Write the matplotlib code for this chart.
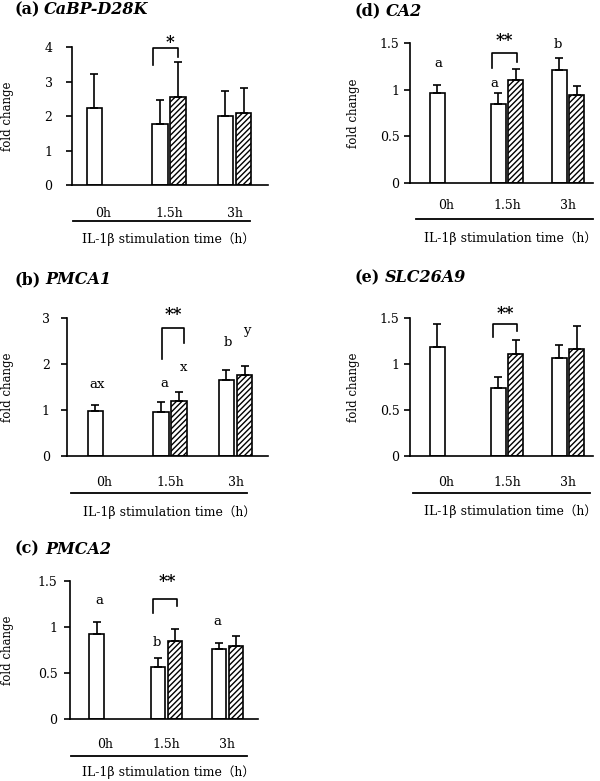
import numpy as np
import matplotlib
matplotlib.use('Agg')
import matplotlib.pyplot as plt
from matplotlib.lines import Line2D

plt.rcParams['font.family'] = ['DejaVu Serif', 'Noto Sans CJK JP']
plt.rcParams['hatch.linewidth'] = 1.0

groups = ['0h', '1.5h', '3h']

# (a) CaBP-D28K
a_ctrl = [2.22, 1.78, 2.01]
a_ctrl_err = [1.01, 0.68, 0.72]
a_il = [np.nan, 2.55, 2.09]
a_il_err = [np.nan, 1.02, 0.71]

# (b) PMCA1
b_ctrl = [0.98, 0.95, 1.66]
b_ctrl_err = [0.12, 0.22, 0.22]
b_il = [np.nan, 1.20, 1.76]
b_il_err = [np.nan, 0.19, 0.20]

# (c) PMCA2
c_ctrl = [0.92, 0.56, 0.76]
c_ctrl_err = [0.13, 0.10, 0.07]
c_il = [np.nan, 0.85, 0.79]
c_il_err = [np.nan, 0.13, 0.11]

# (d) CA2
d_ctrl = [0.96, 0.85, 1.21]
d_ctrl_err = [0.09, 0.11, 0.13]
d_il = [np.nan, 1.10, 0.94]
d_il_err = [np.nan, 0.12, 0.10]

# (e) SLC26A9
e_ctrl = [1.19, 0.74, 1.07]
e_ctrl_err = [0.24, 0.12, 0.14]
e_il = [np.nan, 1.11, 1.16]
e_il_err = [np.nan, 0.15, 0.25]

W, H = 600, 781
fig = plt.figure(figsize=(W / 100, H / 100), dpi=100)

def px_rect(left, right, top, bottom):
    return [left / W, 1 - bottom / H, (right - left) / W, (bottom - top) / H]

OFF = 0.14
BW = 0.235

def panel(rect, xlim, ylim, yticks, yticklabels, ctrl, ctrl_err, il, il_err,
          letter, gene, title_xy, gene_x, ylab_x, ypad, xpad,
          line_px, axlabel_px, bracket, star_xy, star, letters):
    ax = fig.add_axes(px_rect(*rect))
    x = np.arange(len(groups))
    ctrl = np.array(ctrl, float); ctrl_err = np.array(ctrl_err, float)
    il = np.array(il, float); il_err = np.array(il_err, float)
    ax.bar(x - OFF, ctrl, BW, color='white', edgecolor='black', linewidth=1.2,
           yerr=[np.zeros_like(ctrl_err), ctrl_err],
           error_kw=dict(ecolor='black', elinewidth=1.2, capsize=3, capthick=1.2), zorder=2)
    m = ~np.isnan(il)
    ax.bar(x[m] + OFF, il[m], BW, color='white', edgecolor='black', linewidth=1.2,
           hatch='//////', yerr=[np.zeros(m.sum()), il_err[m]],
           error_kw=dict(ecolor='black', elinewidth=1.2, capsize=3, capthick=1.2), zorder=2)
    ax.set_xlim(*xlim)
    ax.set_ylim(*ylim)
    ax.set_yticks(yticks)
    ax.set_yticklabels(yticklabels, fontsize=9)
    ax.tick_params(axis='y', length=4, width=1.2, pad=ypad, direction='out')
    ax.set_xticks(x)
    ax.set_xticklabels(groups, fontsize=9)
    ax.tick_params(axis='x', length=0, pad=xpad)
    for s in ['top', 'right']:
        ax.spines[s].set_visible(False)
    for s in ['left', 'bottom']:
        ax.spines[s].set_linewidth(1.2)
    # significance bracket
    xl, xr, yt, yl, yr = bracket
    ax.plot([xl, xl, xr, xr], [yl, yt, yt, yr], color='black', lw=1.2, clip_on=False)
    ax.text(star_xy[0], star_xy[1], star, ha='center', va='center', fontsize=12,
            fontweight='bold', clip_on=False)
    for (lx, ly, lt) in letters:
        ax.text(lx, ly, lt, ha='center', va='center', fontsize=9.5, clip_on=False)
    # title
    fig.text(title_xy[0] / W, 1 - title_xy[1] / H, '(%s)' % letter, fontsize=11.5,
             fontweight='bold', ha='left', va='center')
    fig.text(gene_x / W, 1 - title_xy[1] / H, gene, fontsize=11.5, fontweight='bold',
             style='italic', ha='left', va='center')
    # y label
    fig.text(ylab_x / W, 1 - ((rect[2] + rect[3]) / 2) / H, 'fold change', rotation=90,
             ha='center', va='center', fontsize=8.5)
    # underline and axis label
    lx0, lx1, ly = line_px
    fig.add_artist(Line2D([lx0 / W, lx1 / W], [1 - ly / H, 1 - ly / H],
                          transform=fig.transFigure, color='black', lw=1.3))
    fig.text(axlabel_px[0] / W, 1 - axlabel_px[1] / H, 'IL-1β stimulation time（h）',
             ha='center', va='center', fontsize=9)
    return ax

# (a)
panel((72, 268, 47, 185), (-0.48, 2.51), (0, 4), [0, 1, 2, 3, 4], ['0', '1', '2', '3', '4'],
      a_ctrl, a_ctrl_err, a_il, a_il_err, 'a', 'CaBP-D28K', (14, 10), 44, 8, 10, 15.5,
      (73, 250, 221), (168, 239), (0.75, 1.13, 3.97, 3.48, 3.72), (1.01, 4.14), '*', [])

# (b)
panel((67, 268, 318, 456), (-0.573, 2.496), (0, 3), [0, 1, 2, 3], ['0', '1', '2', '3'],
      b_ctrl, b_ctrl_err, b_il, b_il_err, 'b', 'PMCA1', (14, 280), 45, 8, 8.5, 14.5,
      (71, 247, 493), (169, 512), (0.88, 1.21, 2.78, 2.11, 2.46), (1.05, 3.07), '**',
      [(-0.11, 1.55, 'ax'), (0.91, 1.58, 'a'), (1.20, 1.92, 'x'),
       (1.89, 2.46, 'b'), (2.18, 2.73, 'y')])

# (c)
panel((70, 258, 581, 719), (-0.576, 2.50), (0, 1.5), [0, 0.5, 1, 1.5], ['0', '0.5', '1', '1.5'],
      c_ctrl, c_ctrl_err, c_il, c_il_err, 'c', 'PMCA2', (14, 549), 45, 8, 5, 13.5,
      (71, 247, 756), (168, 772), (0.78, 1.17, 1.30, 1.15, 1.23), (1.01, 1.50), '**',
      [(-0.10, 1.29, 'a'), (0.85, 0.83, 'b'), (1.83, 1.06, 'a')])

# (d)
panel((410, 593, 43, 183), (-0.59, 2.41), (0, 1.5), [0, 0.5, 1, 1.5], ['0', '0.5', '1', '1.5'],
      d_ctrl, d_ctrl_err, d_il, d_il_err, 'd', 'CA2', (354, 11), 386, 353, 3.5, 11.5,
      (416, 593, 219), (510, 238), (0.75, 1.16, 1.39, 1.23, 1.30), (0.95, 1.53), '**',
      [(-0.13, 1.28, 'a'), (0.80, 1.07, 'a'), (1.84, 1.48, 'b')])

# (e)
panel((410, 593, 318, 456), (-0.59, 2.41), (0, 1.5), [0, 0.5, 1, 1.5], ['0', '0.5', '1', '1.5'],
      e_ctrl, e_ctrl_err, e_il, e_il_err, 'e', 'SLC26A9', (354, 278), 385, 353, 3.5, 14.5,
      (413, 590, 493), (510, 511), (0.77, 1.16, 1.43, 1.29, 1.36), (0.97, 1.55), '**', [])

fig.savefig('out.png', dpi=100, facecolor='white')
